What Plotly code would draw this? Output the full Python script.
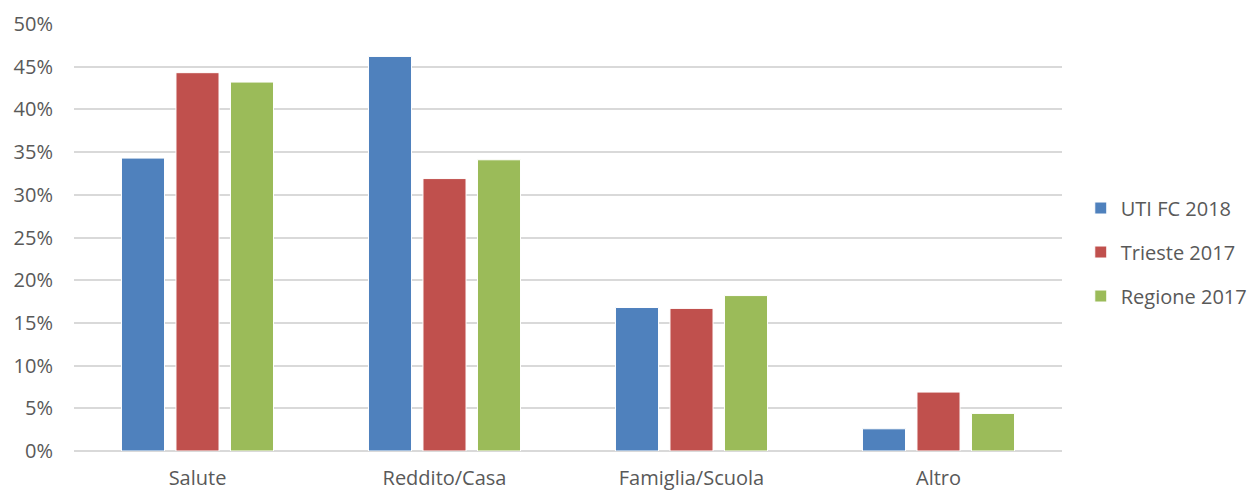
import plotly.graph_objects as go

categories = ["Salute", "Reddito/Casa", "Famiglia/Scuola", "Altro"]
uti_fc_2018 = [0.343, 0.462, 0.168, 0.026]
trieste_2017 = [0.443, 0.319, 0.167, 0.069]
regione_2017 = [0.432, 0.341, 0.182, 0.044]
y_ticks = [0, 0.05, 0.10, 0.15, 0.20, 0.25, 0.30, 0.35, 0.40, 0.45, 0.50]

series = [
    ("UTI FC 2018", uti_fc_2018, "#4F81BD"),
    ("Trieste 2017", trieste_2017, "#C0504D"),
    ("Regione 2017", regione_2017, "#9BBB59"),
]

fig = go.Figure()
for i, (name, vals, color) in enumerate(series):
    fig.add_trace(go.Bar(
        x=categories, y=vals, name=name,
        marker=dict(color=color, line=dict(color="white", width=1)),
        legendgroup=f"g{i}",
    ))

font_family = "'Open Sans', sans-serif"
fs = 20
# page body has an 8px margin, so the figure is drawn 8px smaller
fig.update_layout(
    width=1249, height=482,
    margin=dict(l=66, r=195, t=16, b=39, autoexpand=False),
    paper_bgcolor="white", plot_bgcolor="white",
    barmode="group", bargap=0.338, bargroupgap=0.21,
    font=dict(family=font_family, size=fs, color="#595959"),
    showlegend=True,
    legend=dict(x=1.019, y=0.466, xanchor="left", yanchor="middle",
                traceorder="grouped", tracegroupgap=15,
                font=dict(size=fs, color="#595959")),
    xaxis=dict(showgrid=False, showline=False, ticks="outside", ticklen=9,
               tickcolor="rgba(0,0,0,0)", automargin=False,
               tickfont=dict(size=fs, color="#595959")),
    yaxis=dict(range=[0, 0.5], tickvals=y_ticks, tickformat=".0%",
               showgrid=True, gridcolor="#D9D9D9", gridwidth=1.5,
               zeroline=True, zerolinecolor="#D9D9D9", zerolinewidth=1.5,
               automargin=False,
               ticklabelstandoff=20, tickfont=dict(size=fs, color="#595959")),
)

fig.write_html("out.html")
